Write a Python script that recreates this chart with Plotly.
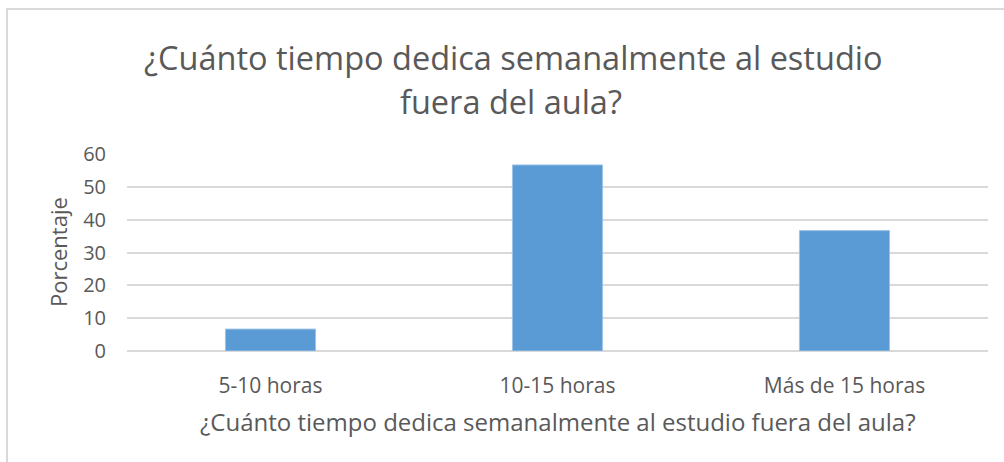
import plotly.graph_objects as go

categories = ["5-10 horas", "10-15 horas", "Más de 15 horas"]
values = [6.67, 56.67, 36.67]
y_ticks = [0, 10, 20, 30, 40, 50, 60]

title_lines = ["¿Cuánto tiempo dedica semanalmente al estudio", "fuera del aula?"]
x_title = "¿Cuánto tiempo dedica semanalmente al estudio fuera del aula?"
y_title = "Porcentaje"

W, H = 1004, 462
L, R, T, B = 127, 16, 154, 111
pw = W - L - R
ph = H - T - B


def px_x(x):
    return (x - L) / pw


def px_y(y):
    return (H - B - y) / ph


FONT = "Open Sans"
GRAY = "#595959"
GRID = "#d9d9d9"

fig = go.Figure()
fig.add_trace(go.Bar(
    x=categories, y=values,
    marker=dict(color="#5b9bd5", line=dict(color="#9dc3e6", width=1)),
    width=0.314, hoverinfo="skip",
))

annotations = [
    dict(text=title_lines[0], x=px_x(513), y=px_y(57)),
    dict(text=title_lines[1], x=px_x(511), y=px_y(101)),
]
annotations = [dict(a, xref="paper", yref="paper", xanchor="center", yanchor="middle",
                    showarrow=False, font=dict(size=32.5, color=GRAY, family=FONT))
               for a in annotations]
annotations.append(dict(text=x_title, xref="paper", yref="paper", x=px_x(558), y=px_y(421),
                        xanchor="center", yanchor="middle", showarrow=False,
                        font=dict(size=24, color=GRAY, family=FONT)))
annotations.append(dict(text=y_title, xref="paper", yref="paper", x=px_x(58), y=px_y(252),
                        xanchor="center", yanchor="middle", showarrow=False, textangle=-90,
                        font=dict(size=22, color=GRAY, family=FONT)))

fig.update_layout(
    width=W, height=H,
    margin=dict(l=L, r=R, t=T, b=B),
    paper_bgcolor="white", plot_bgcolor="white",
    showlegend=False,
    font=dict(family=FONT, color=GRAY),
    xaxis=dict(
        showgrid=False, showline=False, zeroline=False, ticks="",
        tickfont=dict(size=21, color=GRAY, family=FONT),
        ticklabelstandoff=20,
    ),
    yaxis=dict(
        range=[0, 60], tickvals=y_ticks, showgrid=True, gridcolor=GRID, gridwidth=1.5,
        zeroline=True, zerolinecolor=GRID, zerolinewidth=1.5, showline=False,
        ticks="", tickfont=dict(size=20, color=GRAY, family=FONT),
        ticklabelstandoff=20,
    ),
    annotations=annotations,
    shapes=[
        dict(type="rect", xref="paper", yref="paper",
             x0=px_x(7), x1=px_x(W + 10), y0=px_y(H + 10), y1=px_y(9),
             line=dict(color=GRID, width=2), fillcolor="rgba(0,0,0,0)", layer="below"),
    ],
)

fig.write_html("out.html", config={"displayModeBar": False},
               post_script="document.body.style.margin='0';")
